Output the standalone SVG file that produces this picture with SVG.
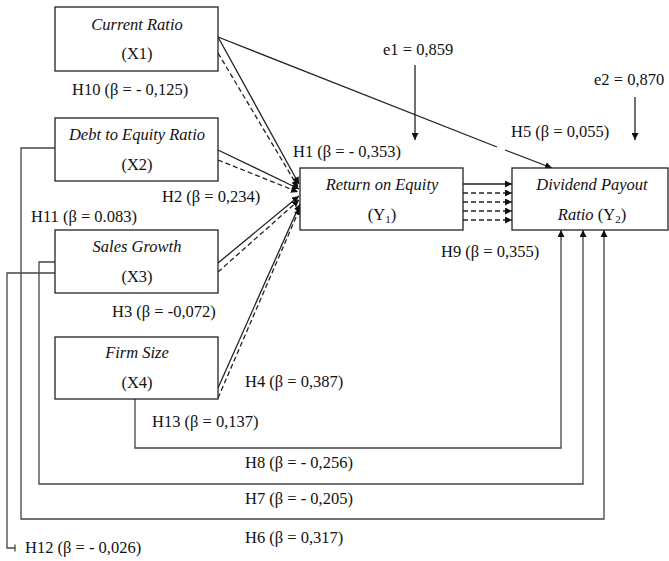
<svg xmlns="http://www.w3.org/2000/svg" width="669" height="561" viewBox="0 0 669 561">
<style>
.box{fill:#fff;stroke:#222;stroke-width:1.3}
.ln{fill:none;stroke:#222;stroke-width:1.3}
.lg{fill:none;stroke:#444;stroke-width:1.3}
.dl{fill:none;stroke:#222;stroke-width:1.3;stroke-dasharray:5,3}
text{font-family:"Liberation Serif","Times New Roman",serif;font-size:16.5px;fill:#111}
.it{font-style:italic}
.c{text-anchor:middle}
</style>
<defs>
<marker id="ah" viewBox="0 0 10 10" refX="10" refY="5" markerWidth="7" markerHeight="7" markerUnits="userSpaceOnUse" orient="auto">
<path d="M0,0 L10,5 L0,10 z" fill="#111"/>
</marker>
</defs>
<rect width="669" height="561" fill="#fff"/>

<g id="connectors">
  <!-- X1 -> Y1 -->
  <line class="ln" x1="218" y1="37" x2="299" y2="184" marker-end="url(#ah)"/>
  <line class="dl" x1="218" y1="53" x2="298" y2="187" marker-end="url(#ah)"/>
  <!-- X2 -> Y1 -->
  <line class="ln" x1="218" y1="150" x2="299" y2="189" marker-end="url(#ah)"/>
  <line class="dl" x1="218" y1="160" x2="298" y2="192" marker-end="url(#ah)"/>
  <!-- X3 -> Y1 -->
  <line class="ln" x1="218" y1="263" x2="299" y2="196" marker-end="url(#ah)"/>
  <line class="dl" x1="218" y1="272" x2="299" y2="200" marker-end="url(#ah)"/>
  <!-- X4 -> Y1 -->
  <line class="ln" x1="218" y1="388" x2="300" y2="204" marker-end="url(#ah)"/>
  <line class="dl" x1="218" y1="398" x2="300" y2="208" marker-end="url(#ah)"/>
  <!-- X1 -> Y2 (H5) -->
  <line class="ln" x1="218" y1="37" x2="497" y2="147"/>
  <line class="ln" x1="505" y1="150" x2="552" y2="168" marker-end="url(#ah)"/>
  <!-- Y1 -> Y2 -->
  <line class="ln" x1="463" y1="184" x2="512" y2="184" marker-end="url(#ah)"/>
  <line class="dl" x1="463" y1="193" x2="512" y2="193" marker-end="url(#ah)"/>
  <line class="dl" x1="463" y1="202" x2="512" y2="202" marker-end="url(#ah)"/>
  <line class="dl" x1="463" y1="211" x2="512" y2="211" marker-end="url(#ah)"/>
  <line class="dl" x1="463" y1="220" x2="512" y2="220" marker-end="url(#ah)"/>
  <!-- e1, e2 -->
  <line class="ln" x1="415" y1="65" x2="415" y2="140" marker-end="url(#ah)"/>
  <line class="ln" x1="635" y1="97" x2="635" y2="140" marker-end="url(#ah)"/>
  <!-- X4 -> Y2 (H8) -->
  <polyline class="lg" points="135,399 135,448 561,448 561,230" marker-end="url(#ah)"/>
  <!-- X3 -> Y2 (H7) -->
  <polyline class="lg" points="55,262 39,262 39,484 583,484 583,230" marker-end="url(#ah)"/>
  <!-- X2 -> Y2 (H6) -->
  <polyline class="lg" points="55,148 21,148 21,519 604,519 604,230" marker-end="url(#ah)"/>
  <!-- X3 -> H12 -->
  <polyline class="lg" points="55,273 7,273 7,548 15,548"/>
  <line class="lg" x1="15" y1="544.5" x2="15" y2="551.5"/>
</g>

<g id="X1">
  <rect class="box" x="55" y="7" width="163" height="64"/>
  <text class="it c" x="137" y="30">Current Ratio</text>
  <text class="c" x="137" y="59">(X1)</text>
</g>
<g id="X2">
  <rect class="box" x="55" y="118" width="163" height="63"/>
  <text class="it c" x="137" y="140">Debt to Equity Ratio</text>
  <text class="c" x="137" y="170">(X2)</text>
</g>
<g id="X3">
  <rect class="box" x="55" y="230" width="163" height="63"/>
  <text class="it c" x="137" y="252">Sales Growth</text>
  <text class="c" x="137" y="282">(X3)</text>
</g>
<g id="X4">
  <rect class="box" x="55" y="337" width="163" height="62"/>
  <text class="it c" x="137" y="358">Firm Size</text>
  <text class="c" x="137" y="388">(X4)</text>
</g>
<g id="Y1">
  <rect class="box" x="300" y="168" width="163" height="62"/>
  <text class="it c" x="382" y="190">Return on Equity</text>
  <text class="c" x="382" y="220">(Y<tspan font-size="11" dy="3">1</tspan><tspan dy="-3">)</tspan></text>
</g>
<g id="Y2">
  <rect class="box" x="512" y="168" width="156" height="62"/>
  <text class="it c" x="592" y="190">Dividend Payout</text>
  <text class="c" x="592" y="220"><tspan font-style="italic">Ratio</tspan> (Y<tspan font-size="11" dy="3">2</tspan><tspan dy="-3">)</tspan></text>
</g>

<g id="labels">
  <text x="383" y="55">e1 = 0,859</text>
  <text x="594" y="85">e2 = 0,870</text>
  <text x="72" y="95">H10 (β = - 0,125)</text>
  <text x="293" y="157">H1 (β = - 0,353)</text>
  <text x="511" y="137">H5 (β = 0,055)</text>
  <text x="162" y="202">H2 (β = 0,234)</text>
  <text x="31" y="222">H11 (β = 0.083)</text>
  <text x="441" y="257">H9 (β = 0,355)</text>
  <text x="112" y="317">H3 (β = -0,072)</text>
  <text x="245" y="387">H4 (β = 0,387)</text>
  <text x="152" y="427">H13 (β = 0,137)</text>
  <text x="245" y="468">H8 (β = - 0,256)</text>
  <text x="245" y="504">H7 (β = - 0,205)</text>
  <text x="245" y="543">H6 (β = 0,317)</text>
  <text x="25" y="553">H12 (β = - 0,026)</text>
</g>
</svg>
